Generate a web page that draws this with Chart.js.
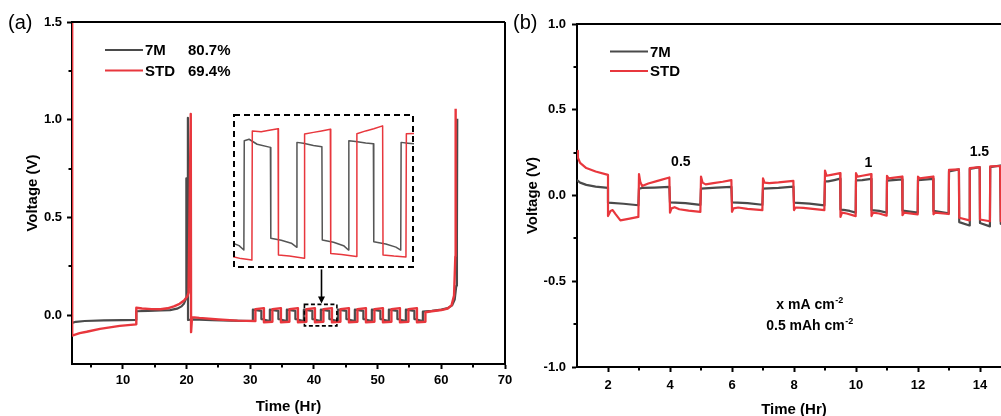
<!DOCTYPE html>
<html>
<head>
<meta charset="utf-8">
<script src="https://cdn.jsdelivr.net/npm/chart.js@4.4.1/dist/chart.umd.min.js"></script>
<style>
  html, body { margin: 0; padding: 0; background: #fff; overflow: hidden; width: 1001px; height: 416px; }
  canvas { position: absolute; top: 0; display: block; }
  #chartA { left: 0; }
  #chartB { left: 505px; }
  #chartInset { left: 0; }
</style>
</head>
<body>
<canvas id="chartA" width="515" height="416"></canvas>
<canvas id="chartB" width="520" height="416"></canvas>
<canvas id="chartInset" width="180" height="155"></canvas>
<script>
// ---------- (a) long-term cycling, time (h) / voltage (V) ----------
const panelA_7M_t = [
  2.0, 2.6, 4, 7, 10, 12.1,
  12.1, 14, 16, 17.4, 18.5, 19.2, 19.6, 19.85, 19.93, 19.95, 19.97, 20.15, 20.2, 20.22, 21, 24, 27,
  30.4, 30.4, 31.74, 31.74, 33.07, 33.07, 34.41, 34.41, 35.74, 35.74, 37.08, 37.08,
  38.41, 38.41, 39.75, 39.75, 41.08, 41.08, 42.42, 42.42, 43.75, 43.75, 45.09, 45.09,
  46.42, 46.42, 47.76, 47.76, 49.09, 49.09, 50.43, 50.43, 51.76, 51.76, 53.1, 53.1,
  54.43, 54.43, 55.77, 55.77, 57.1, 57.1,
  58.5, 60, 61, 61.7, 62.1, 62.35, 62.45, 62.5
];
const panelA_7M_v = [
  -0.04, -0.034, -0.03, -0.027, -0.025, -0.024,
  0.02, 0.022, 0.024, 0.026, 0.033, 0.045, 0.06, 0.08, 0.09, 0.7, 0.1, 0.13, 1.01, -0.025, -0.022, -0.026, -0.028,
  -0.03, 0.028, 0.022, -0.02, -0.03, 0.028, 0.022, -0.02, -0.03, 0.028, 0.022, -0.02,
  -0.03, 0.028, 0.022, -0.02, -0.03, 0.028, 0.022, -0.02, -0.03, 0.028, 0.022, -0.02,
  -0.03, 0.028, 0.022, -0.02, -0.03, 0.028, 0.022, -0.02, -0.03, 0.028, 0.022, -0.02,
  -0.03, 0.028, 0.022, -0.02, -0.03, 0.018,
  0.022, 0.028, 0.036, 0.05, 0.08, 0.15, 0.4, 1.005
];
const panelA_STD_t = [
  2.0, 2.03, 2.5, 3.2, 4.3, 6.4, 9.5, 12.1,
  12.1, 13, 14.5, 15.9, 17, 18, 18.9, 19.6, 20.1, 20.3, 20.65, 20.7, 20.85, 22, 25, 28,
  30.8, 30.8, 32.14, 32.14, 33.47, 33.47, 34.81, 34.81, 36.14, 36.14, 37.48, 37.48,
  38.81, 38.81, 40.15, 40.15, 41.48, 41.48, 42.82, 42.82, 44.15, 44.15, 45.49, 45.49,
  46.82, 46.82, 48.16, 48.16, 49.49, 49.49, 50.83, 50.83, 52.16, 52.16, 53.5, 53.5,
  54.83, 54.83, 56.17, 56.17, 57.5, 57.5,
  58.5, 60, 61, 61.6, 62.0, 62.2, 62.25
];
const panelA_STD_v = [
  1.6, -0.105, -0.1, -0.092, -0.085, -0.07, -0.055, -0.047,
  0.038, 0.034, 0.031, 0.03, 0.035, 0.045, 0.058, 0.075, 0.095, 0.115, 1.03, -0.087, -0.01, -0.014, -0.022, -0.028,
  -0.03, 0.03, 0.036, -0.036, -0.034, 0.03, 0.036, -0.036, -0.034, 0.03, 0.036, -0.036,
  -0.034, 0.03, 0.036, -0.036, -0.034, 0.03, 0.036, -0.036, -0.034, 0.03, 0.036, -0.036,
  -0.034, 0.03, 0.036, -0.036, -0.034, 0.03, 0.036, -0.036, -0.034, 0.03, 0.036, -0.036,
  -0.034, 0.03, 0.036, -0.036, -0.034, 0.015,
  0.02, 0.026, 0.034, 0.05, 0.1, 0.3, 1.056
];
const panelA_xTicks = [10, 20, 30, 40, 50, 60, 70];
const panelA_xMinor = [5, 15, 25, 35, 45, 55, 65];
const panelA_yTicks = [0, 0.5, 1.0, 1.5];
const panelA_yMinor = [0.25, 0.75, 1.25];
const panelA_efficiency = ['80.7%', '69.4%'];

// ---------- magnified view of a few cycles ----------
const inset_7M_t = [39.0, 39.15, 39.27, 39.28, 39.4, 39.6, 39.93, 39.94, 40.2, 40.45, 40.58, 40.59, 40.75, 41.0, 41.21,
  41.22, 41.5, 41.75, 41.87, 41.88, 42.05, 42.3, 42.49, 42.5, 42.8, 43.05, 43.17, 43.18, 43.35, 43.5];
const inset_7M_v = [-0.0236, -0.0248, -0.0269, 0.0255, 0.0262, 0.0238, 0.0223, -0.0212, -0.0222, -0.0236, -0.0255, 0.0247, 0.0243, 0.0232, 0.0226,
  -0.0221, -0.0232, -0.0248, -0.0269, 0.0255, 0.0251, 0.0244, 0.024, -0.0229, -0.024, -0.0255, -0.0269, 0.0247, 0.0243, 0.024];
const inset_STD_t = [39.0, 39.2, 39.47, 39.48, 39.7, 39.9, 40.12, 40.13, 40.4, 40.77, 40.78, 41.0, 41.2, 41.42, 41.43,
  41.7, 42.07, 42.08, 42.3, 42.5, 42.72, 42.73, 43.0, 43.3, 43.31, 43.5];
const inset_STD_v = [-0.0301, -0.031, -0.0317, 0.0302, 0.0298, 0.0305, 0.0312, -0.0293, -0.0298, -0.0308, 0.0287, 0.0295, 0.0302, 0.031, -0.0285,
  -0.029, -0.030, 0.0288, 0.0302, 0.0312, 0.0326, -0.0293, -0.0298, -0.0302, 0.0288, 0.029];

// ---------- (b) rate test, time (h) / voltage (V) ----------
const panelB_7M_t = [1.0, 1.1, 1.3, 1.6, 2.0,
  2.0, 2.5, 2.98, 3.0, 3.1, 3.5, 3.98, 4.0, 4.5, 4.98, 5.0, 5.5, 5.98,
  6.0, 6.5, 6.98, 7.0, 7.5, 7.98, 8.0, 8.5, 8.98,
  9.0, 9.1, 9.3, 9.49, 9.5, 9.6, 9.8, 9.99, 10.0, 10.2, 10.49, 10.5, 10.75, 10.99,
  11.0, 11.49, 11.5, 11.99, 12.0, 12.49, 12.5, 12.99,
  13.0, 13.32, 13.33, 13.66, 13.67, 13.99, 14.0, 14.32, 14.33, 14.65, 14.67, 14.99];
const panelB_7M_v = [0.09, 0.075, 0.062, 0.052, 0.045,
  -0.042, -0.048, -0.057, 0.04, 0.044, 0.046, 0.05, -0.04, -0.045, -0.055, 0.04, 0.046, 0.05,
  -0.04, -0.044, -0.054, 0.04, 0.045, 0.052, -0.042, -0.047, -0.058,
  0.083, 0.082, 0.09, 0.098, -0.082, -0.084, -0.09, -0.1, 0.088, 0.09, 0.097, -0.085, -0.09, -0.1,
  0.087, 0.094, -0.088, -0.1, 0.09, 0.097, -0.09, -0.104,
  0.14, 0.152, -0.155, -0.175, 0.155, 0.165, -0.16, -0.18, 0.165, 0.175, -0.165, -0.185];
const panelB_STD_t = [1.0, 1.03, 1.1, 1.3, 1.6, 2.0,
  2.0, 2.08, 2.15, 2.25, 2.4, 2.7, 2.98,
  3.0, 3.04, 3.1, 3.3, 3.6, 3.98,
  4.0, 4.05, 4.15, 4.3, 4.6, 4.98,
  5.0, 5.05, 5.15, 5.4, 5.7, 5.98,
  6.0, 6.05, 6.2, 6.5, 6.98,
  7.0, 7.05, 7.2, 7.5, 7.98,
  8.0, 8.05, 8.3, 8.6, 8.98,
  9.0, 9.05, 9.2, 9.49, 9.5, 9.55, 9.7, 9.99,
  10.0, 10.05, 10.2, 10.49, 10.5, 10.55, 10.75, 10.99,
  11.0, 11.05, 11.49, 11.5, 11.55, 11.99,
  12.0, 12.05, 12.49, 12.5, 12.55, 12.99,
  13.0, 13.32, 13.33, 13.66, 13.67, 13.99, 14.0, 14.32, 14.33, 14.65, 14.67, 14.99];
const panelB_STD_v = [0.26, 0.22, 0.19, 0.16, 0.14, 0.12,
  -0.12, -0.09, -0.085, -0.11, -0.145, -0.135, -0.125,
  0.125, 0.08, 0.055, 0.07, 0.085, 0.105,
  -0.1, -0.075, -0.068, -0.08, -0.088, -0.095,
  0.11, 0.075, 0.065, 0.072, 0.08, 0.09,
  -0.095, -0.075, -0.07, -0.078, -0.085,
  0.1, 0.075, 0.072, 0.076, 0.085,
  -0.085, -0.07, -0.072, -0.078, -0.085,
  0.145, 0.115, 0.12, 0.13, -0.125, -0.1, -0.105, -0.12,
  0.13, 0.11, 0.115, 0.125, -0.12, -0.1, -0.105, -0.118,
  0.115, 0.1, 0.11, -0.115, -0.1, -0.11,
  0.11, 0.1, 0.11, -0.11, -0.1, -0.108,
  0.15, 0.152, -0.13, -0.145, 0.16, 0.165, -0.14, -0.15, 0.17, 0.172, -0.15, -0.16];
const panelB_xTicks = [2, 4, 6, 8, 10, 12, 14];
const panelB_xMinor = [3, 5, 7, 9, 11, 13, 15];
const panelB_yTicks = [-1.0, -0.5, 0, 0.5, 1.0];
const panelB_yMinor = [-0.75, -0.25, 0.25, 0.75];
const panelB_rates = ['0.5', '1', '1.5'];

const seriesNames = ['7M', 'STD'];

// ---------- styling ----------
const FONT = '"Liberation Sans", Arial, Helvetica, sans-serif';
const GRAY = '#4a4a4a';
const RED = '#e8373d';

function pts(ts, vs) { return ts.map((t, i) => ({ x: t, y: vs[i] })); }

function lineSet(label, data, color, width) {
  return {
    label, data, borderColor: color, backgroundColor: color,
    borderWidth: width, pointRadius: 0, tension: 0, fill: false,
    borderJoinStyle: 'round', borderCapStyle: 'butt'
  };
}

function axis(opts) {
  const { min, max, ticks, pos, fit, tickPad, title, titlePad, fmt } = opts;
  const horizontal = pos === 'bottom';
  return {
    type: 'linear', position: pos, min, max,
    afterBuildTicks: s => { s.ticks = ticks.map(v => ({ value: v })); },
    afterFit: s => {
      if (horizontal) { s.height = fit; s.paddingLeft = 0; s.paddingRight = 0; }
      else { s.width = fit; s.paddingTop = 0; s.paddingBottom = 0; }
    },
    ticks: {
      autoSkip: false, maxRotation: 0, color: '#000', padding: tickPad,
      font: { family: FONT, size: 13, weight: 'bold' },
      callback: fmt
    },
    grid: { display: true, drawOnChartArea: false, drawTicks: true, tickLength: 5, tickWidth: 2, tickColor: '#000' },
    border: { display: true, color: '#000', width: 2 },
    title: {
      display: true, text: title, color: '#000',
      font: { family: FONT, size: 15, weight: 'bold' },
      padding: titlePad
    }
  };
}

// frame, minor ticks shared by both panels
function drawFrame(chart, xMinor, yMinor) {
  const { ctx, chartArea: a, scales: { x, y } } = chart;
  ctx.save();
  ctx.strokeStyle = '#000';
  ctx.lineWidth = 2;
  ctx.beginPath();
  ctx.moveTo(a.left - 1, a.top); ctx.lineTo(a.right, a.top);
  ctx.moveTo(a.right, a.top); ctx.lineTo(a.right, a.bottom + 1);
  ctx.stroke();
  ctx.beginPath();
  xMinor.forEach(v => { const px = Math.round(x.getPixelForValue(v)); ctx.moveTo(px, a.bottom); ctx.lineTo(px, a.bottom + 3.5); });
  yMinor.forEach(v => { const py = Math.round(y.getPixelForValue(v)); ctx.moveTo(a.left, py); ctx.lineTo(a.left - 3.5, py); });
  ctx.stroke();
  ctx.restore();
}

function drawText(ctx, text, x, y, size, weight, align, baseline) {
  ctx.font = `${weight} ${size}px ${FONT}`;
  ctx.fillStyle = '#000';
  ctx.textAlign = align || 'left';
  ctx.textBaseline = baseline || 'alphabetic';
  ctx.fillText(text, x, y);
}

function drawLegend(ctx, x0, rows) {
  rows.forEach(r => {
    ctx.strokeStyle = r.color; ctx.lineWidth = 2.2;
    ctx.beginPath(); ctx.moveTo(x0, r.y); ctx.lineTo(x0 + 38, r.y); ctx.stroke();
    drawText(ctx, r.name, x0 + 40, r.y + 1, 15, 'bold', 'left', 'middle');
    if (r.extra) drawText(ctx, r.extra, x0 + 83, r.y + 1, 15, 'bold', 'left', 'middle');
  });
}

// centred text with a trailing superscript
function drawSup(ctx, base, sup, cx, y, size) {
  const supSize = Math.round(size * 0.64);
  ctx.font = `bold ${size}px ${FONT}`;
  const wb = ctx.measureText(base).width;
  ctx.font = `bold ${supSize}px ${FONT}`;
  const ws = ctx.measureText(sup).width;
  const x0 = cx - (wb + ws) / 2;
  drawText(ctx, base, x0, y, size, 'bold', 'left', 'alphabetic');
  drawText(ctx, sup, x0 + wb + 0.5, y - size * 0.42, supSize, 'bold', 'left', 'alphabetic');
}

// ---------- panel (a) ----------
const zoomWindow = { t0: 38.5, t1: 43.6, v0: -0.055, v1: 0.055 };
const insetBox = { t0: 27.35, t1: 55.7, v0: 0.239, v1: 1.031 };

const panelAPlugin = {
  id: 'panelA',
  afterDraw(chart) {
    const { ctx, scales: { x, y } } = chart;
    drawFrame(chart, panelA_xMinor, panelA_yMinor);
    ctx.save();
    drawText(ctx, '(a)', 8, 29, 20, 'normal', 'left', 'alphabetic');
    drawLegend(ctx, 105, [
      { y: 50, color: GRAY, name: seriesNames[0], extra: panelA_efficiency[0] },
      { y: 70.5, color: RED, name: seriesNames[1], extra: panelA_efficiency[1] }
    ]);
    // dashed window around the magnified cycles
    const l = x.getPixelForValue(zoomWindow.t0), r = x.getPixelForValue(zoomWindow.t1);
    const t = y.getPixelForValue(zoomWindow.v1), b = y.getPixelForValue(zoomWindow.v0);
    ctx.strokeStyle = '#000'; ctx.lineWidth = 1.6; ctx.setLineDash([4, 2.5]);
    ctx.strokeRect(l, t, r - l, b - t);
    ctx.setLineDash([]);
    // arrow from the magnified view down to the window
    const ax = Math.round((l + r) / 2) + 0.5;
    const top = y.getPixelForValue(insetBox.v0) + 1;
    ctx.lineWidth = 1.6;
    ctx.beginPath(); ctx.moveTo(ax, top); ctx.lineTo(ax, t - 6); ctx.stroke();
    ctx.fillStyle = '#000';
    ctx.beginPath(); ctx.moveTo(ax - 3.5, t - 8); ctx.lineTo(ax + 3.5, t - 8); ctx.lineTo(ax, t - 1); ctx.closePath(); ctx.fill();
    ctx.restore();
  }
};

const chartA = new Chart(document.getElementById('chartA'), {
  type: 'line',
  data: {
    datasets: [
      lineSet(seriesNames[1], pts(panelA_STD_t, panelA_STD_v), RED, 2.4),
      lineSet(seriesNames[0], pts(panelA_7M_t, panelA_7M_v), GRAY, 2.2)
    ]
  },
  options: {
    responsive: false, animation: false, devicePixelRatio: 1,
    layout: { padding: { left: 0, right: 10, top: 22, bottom: 0 } },
    plugins: { legend: { display: false }, tooltip: { enabled: false } },
    scales: {
      x: axis({ min: 2, max: 70, ticks: panelA_xTicks, pos: 'bottom', fit: 52, tickPad: 4,
        title: 'Time (Hr)', titlePad: { top: 0, bottom: 0 }, fmt: v => String(v) }),
      y: axis({ min: -0.25, max: 1.5, ticks: panelA_yTicks, pos: 'left', fit: 72, tickPad: 5,
        title: 'Voltage (V)', titlePad: { top: 24, bottom: 0 }, fmt: v => v.toFixed(1) })
    }
  },
  plugins: [panelAPlugin]
});

// ---------- magnified view placed over panel (a) ----------
const sx = chartA.scales.x, sy = chartA.scales.y;
const insetLeft = Math.round(sx.getPixelForValue(insetBox.t0));
const insetTop = Math.round(sy.getPixelForValue(insetBox.v1));
const insetW = Math.round(sx.getPixelForValue(insetBox.t1)) - insetLeft;
const insetH = Math.round(sy.getPixelForValue(insetBox.v0)) - insetTop;
const insetCanvas = document.getElementById('chartInset');
insetCanvas.width = insetW; insetCanvas.height = insetH;
insetCanvas.style.left = insetLeft + 'px';
insetCanvas.style.top = insetTop + 'px';

new Chart(insetCanvas, {
  type: 'line',
  data: {
    datasets: [
      lineSet(seriesNames[1], pts(inset_STD_t, inset_STD_v), RED, 1.5),
      lineSet(seriesNames[0], pts(inset_7M_t, inset_7M_v), '#555555', 1.5)
    ]
  },
  options: {
    responsive: false, animation: false, devicePixelRatio: 1,
    layout: { padding: 0 },
    plugins: { legend: { display: false }, tooltip: { enabled: false } },
    scales: {
      x: { type: 'linear', display: false, min: 39.0, max: 43.5 },
      y: { type: 'linear', display: false, min: -0.0355, max: 0.0383 }
    }
  },
  plugins: [{
    id: 'insetBorder',
    afterDraw(chart) {
      const { ctx, width, height } = chart;
      ctx.save();
      ctx.strokeStyle = '#000'; ctx.lineWidth = 2; ctx.setLineDash([6, 4]);
      ctx.strokeRect(1, 1, width - 2, height - 2);
      ctx.restore();
    }
  }]
});

// ---------- panel (b) ----------
const rateLabelPos = [{ t: 4.35, v: 0.197 }, { t: 10.4, v: 0.187 }, { t: 13.98, v: 0.25 }];

const panelBPlugin = {
  id: 'panelB',
  afterDraw(chart) {
    const { ctx, scales: { x, y } } = chart;
    drawFrame(chart, panelB_xMinor, panelB_yMinor);
    ctx.save();
    drawText(ctx, '(b)', 8, 29, 20, 'normal', 'left', 'alphabetic');
    drawLegend(ctx, 105, [
      { y: 51.5, color: GRAY, name: seriesNames[0] },
      { y: 71, color: RED, name: seriesNames[1] }
    ]);
    panelB_rates.forEach((txt, i) => {
      drawText(ctx, txt, x.getPixelForValue(rateLabelPos[i].t), y.getPixelForValue(rateLabelPos[i].v), 14, 'bold', 'center', 'middle');
    });
    const cx = x.getPixelForValue(8.5);
    drawSup(ctx, 'x mA cm', '-2', cx, y.getPixelForValue(-0.664), 14);
    drawSup(ctx, '0.5 mAh cm', '-2', cx, y.getPixelForValue(-0.784), 14);
    ctx.restore();
  }
};

new Chart(document.getElementById('chartB'), {
  type: 'line',
  data: {
    datasets: [
      lineSet(seriesNames[1], pts(panelB_STD_t, panelB_STD_v), RED, 2.2),
      lineSet(seriesNames[0], pts(panelB_7M_t, panelB_7M_v), GRAY, 2.2)
    ]
  },
  options: {
    responsive: false, animation: false, devicePixelRatio: 1,
    layout: { padding: { left: 0, right: 14, top: 24, bottom: 0 } },
    plugins: { legend: { display: false }, tooltip: { enabled: false } },
    scales: {
      x: axis({ min: 1, max: 15, ticks: panelB_xTicks, pos: 'bottom', fit: 49, tickPad: 6,
        title: 'Time (Hr)', titlePad: { top: 0, bottom: -3 }, fmt: v => String(v) }),
      y: axis({ min: -1, max: 1, ticks: panelB_yTicks, pos: 'left', fit: 72, tickPad: 6,
        title: 'Voltage (V)', titlePad: { top: 19, bottom: 0 }, fmt: v => v.toFixed(1) })
    }
  },
  plugins: [panelBPlugin]
});
</script>
</body>
</html>
